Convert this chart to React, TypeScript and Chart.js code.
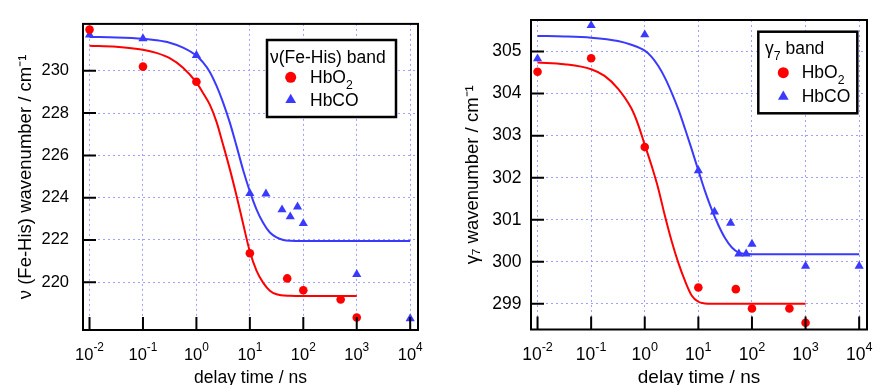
import React, { useEffect, useRef } from 'react';
import { Chart, registerables } from 'chart.js';

Chart.register(...registerables);

const FONT = '"Liberation Sans", Arial, Helvetica, sans-serif';
const RED = '#ff0000';
const BLUE = '#3a3aff';
const GRID = 'rgba(150,150,255,0.9)';

// shared x axis (delay time, ns)
const xTickValues = [0.01, 0.1, 1, 10, 100, 1000, 10000];
const xTickExponents = ['-2', '-1', '0', '1', '2', '3', '4'];
const xAxisTitle = 'delay time / ns';

// ---- left panel: ν(Fe-His) band ----
const feHisYTicks = [220, 222, 224, 226, 228, 230];
const feHisO2Time = [0.01, 0.1, 1, 10, 50, 100, 500, 1000];
const feHisO2Value = [231.95, 230.2, 229.48, 221.37, 220.18, 219.62, 219.18, 218.33];
const feHisCOTime = [0.01, 0.1, 1, 10, 20, 40, 57, 78, 100, 1000, 10000];
const feHisCOValue = [231.7, 231.53, 230.73, 224.2, 224.18, 223.43, 223.1, 223.57, 222.78, 220.37, 218.28];
const feHisO2FitTime = [0.01, 0.0316, 0.1, 0.178, 0.316, 0.562, 1, 1.33, 1.78, 2.37, 3.16, 4.22, 5.62, 7.5, 10, 13.3, 17.8, 23.7, 31.6, 56.2, 100, 1000];
const feHisO2FitValue = [231.19, 231.14, 231.0, 230.85, 230.6, 230.15, 229.45, 228.95, 228.4, 227.6, 226.5, 225.35, 224.1, 222.75, 221.45, 220.55, 219.97, 219.6, 219.43, 219.36, 219.35, 219.35];
const feHisCOFitTime = [0.01, 0.0316, 0.1, 0.178, 0.316, 0.562, 1, 1.33, 1.78, 2.37, 3.16, 4.22, 5.62, 7.5, 10, 13.3, 17.8, 23.7, 31.6, 42.2, 56.2, 100, 1000, 10000];
const feHisCOFitValue = [231.6, 231.58, 231.52, 231.45, 231.33, 231.1, 230.72, 230.4, 229.95, 229.3, 228.5, 227.55, 226.45, 225.3, 224.3, 223.45, 222.8, 222.35, 222.12, 222.0, 221.96, 221.95, 221.95, 221.95];

// ---- right panel: γ7 band ----
const g7YTicks = [299, 300, 301, 302, 303, 304, 305];
const g7O2Time = [0.01, 0.1, 1, 10, 50, 100, 500, 1000];
const g7O2Value = [304.52, 304.84, 302.73, 299.39, 299.35, 298.89, 298.89, 298.55];
const g7COTime = [0.01, 0.1, 1, 10, 20, 40, 57, 78, 100, 1000, 10000];
const g7COValue = [304.83, 305.62, 305.4, 302.17, 301.19, 300.92, 300.19, 300.19, 300.42, 299.9, 299.9];
const g7O2FitTime = [0.01, 0.0316, 0.1, 0.178, 0.316, 0.562, 0.75, 1, 1.33, 1.78, 2.37, 3.16, 4.22, 5.62, 7.5, 10, 13.3, 17.8, 100, 1000];
const g7O2FitValue = [304.74, 304.7, 304.58, 304.42, 304.12, 303.65, 303.27, 302.78, 302.3, 301.75, 301.1, 300.5, 299.98, 299.55, 299.2, 299.05, 299.01, 299.0, 299.0, 299.0];
const g7COFitTime = [0.01, 0.0316, 0.1, 0.316, 0.562, 1, 1.33, 1.78, 2.37, 3.16, 4.22, 5.62, 7.5, 10, 13.3, 17.8, 23.7, 31.6, 42.2, 56.2, 75, 100, 1000, 10000];
const g7COFitValue = [305.37, 305.36, 305.33, 305.25, 305.16, 305.02, 304.88, 304.66, 304.38, 304.03, 303.63, 303.17, 302.68, 302.17, 301.68, 301.24, 300.87, 300.56, 300.34, 300.22, 300.19, 300.18, 300.18, 300.18];

type Part = { t: string; sub?: boolean };

const legendO2: Part[] = [{ t: 'HbO' }, { t: '2', sub: true }];
const legendCO: Part[] = [{ t: 'HbCO' }];

const panels = [
  {
    left: 0,
    width: 440,
    pad: { top: 14.3, right: 22 },
    yAxisWidth: 83,
    xAxisHeight: 55,
    yMin: 217.74,
    yMax: 232.22,
    yTicks: feHisYTicks,
    yTitle: 'ν (Fe-His) wavenumber / cm⁻¹',
    yTitlePad: 14.5,
    yTickPad: 14,
    tickSize: 16.5,
    xTitleSize: 17.5,
    o2: [feHisO2Time, feHisO2Value],
    co: [feHisCOTime, feHisCOValue],
    o2Fit: [feHisO2FitTime, feHisO2FitValue],
    coFit: [feHisCOFitTime, feHisCOFitValue],
    legend: {
      x: 267, y: 40, w: 129, h: 77,
      title: [{ t: 'ν(Fe-His) band' }] as Part[],
      titleX: 270, titleY: 62.7,
      markerX: 290.7, rows: [{ y: 77.3, base: 83.3 }, { y: 100, base: 106 }],
      textX: 310, size: 17.5,
    },
  },
  {
    left: 440,
    width: 439,
    pad: { top: 14, right: 12 },
    yAxisWidth: 91,
    xAxisHeight: 55.5,
    yMin: 298.39,
    yMax: 305.75,
    yTicks: g7YTicks,
    yTitle: 'γ₇ wavenumber / cm⁻¹',
    yTitlePad: 22,
    yTickPad: 9.5,
    tickSize: 17.5,
    xTitleSize: 19,
    o2: [g7O2Time, g7O2Value],
    co: [g7COTime, g7COValue],
    o2Fit: [g7O2FitTime, g7O2FitValue],
    coFit: [g7COFitTime, g7COFitValue],
    legend: {
      x: 318.3, y: 31.7, w: 99, h: 81.6,
      title: [{ t: 'γ' }, { t: '7', sub: true }, { t: ' band' }] as Part[],
      titleX: 325, titleY: 54.3,
      markerX: 343.3, rows: [{ y: 72.7, base: 78.3 }, { y: 96.7, base: 101.7 }],
      textX: 361.7, size: 17.5,
    },
  },
];

function drawRich(ctx: CanvasRenderingContext2D, parts: Part[], x: number, y: number, size: number) {
  let cx = x;
  for (const p of parts) {
    const s = p.sub ? size * 0.7 : size;
    ctx.font = `${s}px ${FONT}`;
    ctx.fillText(p.t, cx, p.sub ? y + size * 0.3 : y);
    cx += ctx.measureText(p.t).width;
  }
}

function Panel({ cfg }: { cfg: any }) {
  const ref = useRef<HTMLCanvasElement>(null);
  useEffect(() => {
    const canvas = ref.current!;
    const pts = (arr: number[][]) => arr[0].map((x, i) => ({ x, y: arr[1][i] }));

    const overlay = {
      id: 'overlay',
      afterDatasetsDraw(chart: any) {
        const { ctx, chartArea: a } = chart;
        const xs = chart.scales.x;
        const ys = chart.scales.y;
        ctx.save();
        ctx.strokeStyle = '#000';
        ctx.lineWidth = 2;
        ctx.beginPath();
        for (const v of xTickValues) {
          const px = xs.getPixelForValue(v);
          ctx.moveTo(px, a.bottom);
          ctx.lineTo(px, a.bottom - 13);
        }
        for (const v of cfg.yTicks) {
          const py = ys.getPixelForValue(v);
          ctx.moveTo(a.left, py);
          ctx.lineTo(a.left + 13, py);
        }
        ctx.stroke();
        ctx.strokeRect(a.left, a.top, a.right - a.left, a.bottom - a.top);

        // x tick labels 10^n
        ctx.fillStyle = '#000';
        ctx.textBaseline = 'alphabetic';
        ctx.textAlign = 'left';
        const expSize = cfg.tickSize * 0.72;
        xTickValues.forEach((v, i) => {
          const px = xs.getPixelForValue(v);
          ctx.font = `${cfg.tickSize}px ${FONT}`;
          const wb = ctx.measureText('10').width;
          ctx.font = `${expSize}px ${FONT}`;
          const we = ctx.measureText(xTickExponents[i]).width;
          const x0 = px - (wb + we) / 2;
          ctx.font = `${cfg.tickSize}px ${FONT}`;
          ctx.fillText('10', x0, 360);
          ctx.font = `${expSize}px ${FONT}`;
          ctx.fillText(xTickExponents[i], x0 + wb, 351);
        });
        ctx.restore();
      },
      afterDraw(chart: any) {
        const { ctx } = chart;
        const lg = cfg.legend;
        ctx.save();
        ctx.fillStyle = '#fff';
        ctx.fillRect(lg.x, lg.y, lg.w, lg.h);
        ctx.strokeStyle = '#000';
        ctx.lineWidth = 2.5;
        ctx.strokeRect(lg.x, lg.y, lg.w, lg.h);
        ctx.fillStyle = '#000';
        ctx.textBaseline = 'alphabetic';
        ctx.textAlign = 'left';
        drawRich(ctx, lg.title, lg.titleX, lg.titleY, lg.size);
        // HbO2 marker
        ctx.fillStyle = RED;
        ctx.beginPath();
        ctx.arc(lg.markerX, lg.rows[0].y, 5.5, 0, Math.PI * 2);
        ctx.fill();
        // HbCO marker
        const r = 6.2;
        const cy = lg.rows[1].y;
        ctx.fillStyle = BLUE;
        ctx.beginPath();
        ctx.moveTo(lg.markerX, cy - r);
        ctx.lineTo(lg.markerX + r * Math.sin((2 * Math.PI) / 3), cy - r * Math.cos((2 * Math.PI) / 3));
        ctx.lineTo(lg.markerX - r * Math.sin((2 * Math.PI) / 3), cy - r * Math.cos((2 * Math.PI) / 3));
        ctx.closePath();
        ctx.fill();
        ctx.fillStyle = '#000';
        drawRich(ctx, legendO2, lg.textX, lg.rows[0].base, lg.size);
        drawRich(ctx, legendCO, lg.textX, lg.rows[1].base, lg.size);
        ctx.restore();
      },
    };

    const chart = new Chart(canvas, {
      type: 'scatter',
      data: {
        datasets: [
          {
            label: 'HbO2',
            data: pts(cfg.o2),
            pointStyle: 'circle',
            pointRadius: 4.3,
            backgroundColor: RED,
            borderWidth: 0,
            clip: false,
            order: 0,
          } as any,
          {
            label: 'HbCO',
            data: pts(cfg.co),
            pointStyle: 'triangle',
            pointRadius: 5.3,
            backgroundColor: BLUE,
            borderWidth: 0,
            clip: false,
            order: 1,
          },
          {
            label: 'HbO2 fit',
            data: pts(cfg.o2Fit),
            showLine: true,
            pointRadius: 0,
            borderColor: RED,
            borderWidth: 2,
            cubicInterpolationMode: 'monotone',
            order: 2,
          },
          {
            label: 'HbCO fit',
            data: pts(cfg.coFit),
            showLine: true,
            pointRadius: 0,
            borderColor: BLUE,
            borderWidth: 2,
            cubicInterpolationMode: 'monotone',
            order: 3,
          },
        ],
      },
      options: {
        animation: false,
        responsive: false,
        devicePixelRatio: 1,
        events: [],
        layout: { padding: { top: cfg.pad.top, right: cfg.pad.right, left: 0, bottom: 0 } },
        plugins: { legend: { display: false }, tooltip: { enabled: false } },
        scales: {
          x: {
            type: 'logarithmic',
            min: 0.00755,
            max: 14000,
            afterBuildTicks: (s: any) => {
              s.ticks = xTickValues.map((v) => ({ value: v }));
            },
            afterFit: (s: any) => {
              s.height = cfg.xAxisHeight;
            },
            ticks: { display: false },
            grid: { color: GRID, lineWidth: 1, drawTicks: false },
            border: { display: false, dash: [2, 3] },
            title: {
              display: true,
              text: xAxisTitle,
              color: '#000',
              font: { family: FONT, size: cfg.xTitleSize },
              padding: { top: 0, bottom: -3.7 },
            },
          },
          y: {
            type: 'linear',
            min: cfg.yMin,
            max: cfg.yMax,
            afterBuildTicks: (s: any) => {
              s.ticks = cfg.yTicks.map((v: number) => ({ value: v }));
            },
            afterFit: (s: any) => {
              s.width = cfg.yAxisWidth;
            },
            ticks: {
              color: '#000',
              padding: cfg.yTickPad,
              font: { family: FONT, size: cfg.tickSize },
              callback: (v: any) => String(v),
            },
            grid: { color: GRID, lineWidth: 1, drawTicks: false },
            border: { display: false, dash: [2, 3] },
            title: {
              display: true,
              text: cfg.yTitle,
              color: '#000',
              font: { family: FONT, size: 18.5 },
              padding: { top: cfg.yTitlePad, bottom: 0 },
            },
          },
        },
      },
      plugins: [overlay],
    } as any);
    return () => chart.destroy();
  }, []);
  return (
    <canvas
      ref={ref}
      width={cfg.width}
      height={385}
      style={{ position: 'absolute', left: cfg.left, top: 0, width: cfg.width, height: 385 }}
    />
  );
}

export default function App() {
  return (
    <div
      style={{
        position: 'absolute',
        left: 0,
        top: 0,
        width: 879,
        height: 385,
        overflow: 'hidden',
        background: '#fff',
      }}
    >
      {panels.map((p, i) => (
        <Panel key={i} cfg={p} />
      ))}
    </div>
  );
}
